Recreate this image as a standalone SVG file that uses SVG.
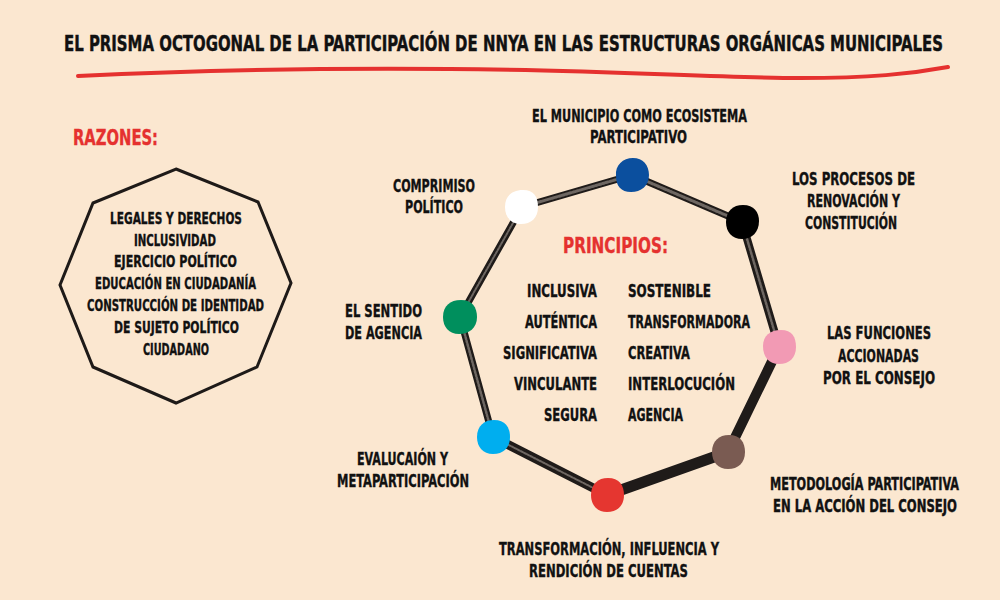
<svg xmlns="http://www.w3.org/2000/svg" width="1000" height="600" viewBox="0 0 1000 600">
  <style>
    text { font-family: "DejaVu Sans Condensed", "Liberation Sans", sans-serif; font-weight: bold; fill: #111; stroke: #111; stroke-width: 0.35px; }
    .t { font-size: 17.5px; }
    .lbl { font-size: 17px; }
    .lbs { font-size: 14.8px; }
    .oct { font-size: 15.5px; }
    .red { fill: #E5312F; stroke: #E5312F; font-size: 21px; }
    .edge-o { stroke: #1f1b19; stroke-linecap: round; fill: none; }
    .edge-i { stroke: #6e6762; stroke-linecap: round; fill: none; stroke-dasharray: 2 1.5; }
  </style>
  <rect x="0" y="0" width="1000" height="600" fill="#FBE7D0"/>

  <g id="title">
    <text class="t" transform="translate(64,51) scale(1,1.22)" x="0" y="0" textLength="879" lengthAdjust="spacingAndGlyphs">EL PRISMA OCTOGONAL DE LA PARTICIPACIÓN DE NNYA EN LAS ESTRUCTURAS ORGÁNICAS MUNICIPALES</text>
    <path d="M78,76 C200,70 330,68 450,69 C600,70 720,78 800,78 C870,78 910,74 948,67" fill="none" stroke="#E5312F" stroke-width="4" stroke-linecap="round"/>
  </g>

  <g id="razones">
    <text class="red" x="73" y="145" textLength="85" lengthAdjust="spacingAndGlyphs">RAZONES:</text>
    <polygon points="176,169 258,202 291,283 257,367 176,403 93,367 60,285 93,203" fill="none" stroke="#1e1a18" stroke-width="3" stroke-linejoin="miter"/>
    <text class="oct" x="110" y="224" textLength="132" lengthAdjust="spacingAndGlyphs">LEGALES Y DERECHOS</text>
    <text class="oct" x="134" y="246" textLength="82" lengthAdjust="spacingAndGlyphs">INCLUSIVIDAD</text>
    <text class="oct" x="114" y="267" textLength="123" lengthAdjust="spacingAndGlyphs">EJERCICIO POLÍTICO</text>
    <text class="oct" x="95" y="289" textLength="161" lengthAdjust="spacingAndGlyphs">EDUCACIÓN EN CIUDADANÍA</text>
    <text class="oct" x="87" y="311" textLength="177" lengthAdjust="spacingAndGlyphs">CONSTRUCCIÓN DE IDENTIDAD</text>
    <text class="oct" x="114" y="333" textLength="125" lengthAdjust="spacingAndGlyphs">DE SUJETO POLÍTICO</text>
    <text class="oct" x="143" y="355" textLength="66" lengthAdjust="spacingAndGlyphs">CIUDADANO</text>
  </g>

  <g id="connectors">
    <line class="edge-o" x1="522" y1="207" x2="632" y2="175" stroke-width="7"/>
    <line class="edge-i" x1="522" y1="207" x2="632" y2="175" stroke-width="3"/>
    <line class="edge-o" x1="632" y1="175" x2="742" y2="222" stroke-width="7"/>
    <line class="edge-i" x1="632" y1="175" x2="742" y2="222" stroke-width="3"/>
    <line class="edge-o" x1="742" y1="222" x2="779" y2="347" stroke-width="8"/>
    <line class="edge-i" x1="742" y1="222" x2="779" y2="347" stroke-width="2.5"/>
    <line class="edge-o" x1="779" y1="347" x2="728" y2="452" stroke-width="10" stroke="#0d0b0a"/>
    <line class="edge-o" x1="728" y1="452" x2="607" y2="495" stroke-width="11" stroke="#0d0b0a"/>
    <line class="edge-o" x1="607" y1="495" x2="493" y2="437" stroke-width="9"/>
    <line class="edge-i" x1="607" y1="495" x2="493" y2="437" stroke-width="2"/>
    <line class="edge-o" x1="493" y1="437" x2="460" y2="317" stroke-width="7"/>
    <line class="edge-i" x1="493" y1="437" x2="460" y2="317" stroke-width="2.5"/>
    <line class="edge-o" x1="460" y1="317" x2="522" y2="207" stroke-width="7"/>
    <line class="edge-i" x1="460" y1="317" x2="522" y2="207" stroke-width="2"/>
  </g>

  <g id="principios">
    <text class="red" x="563" y="253" textLength="105" lengthAdjust="spacingAndGlyphs">PRINCIPIOS:</text>
    <text class="lbl" x="527" y="297" textLength="70" lengthAdjust="spacingAndGlyphs">INCLUSIVA</text>
    <text class="lbl" x="525" y="328" textLength="72" lengthAdjust="spacingAndGlyphs">AUTÉNTICA</text>
    <text class="lbl" x="503" y="359" textLength="94" lengthAdjust="spacingAndGlyphs">SIGNIFICATIVA</text>
    <text class="lbl" x="514" y="390" textLength="83" lengthAdjust="spacingAndGlyphs">VINCULANTE</text>
    <text class="lbl" x="544" y="421" textLength="53" lengthAdjust="spacingAndGlyphs">SEGURA</text>
    <text class="lbl" x="628" y="297" textLength="83" lengthAdjust="spacingAndGlyphs">SOSTENIBLE</text>
    <text class="lbl" x="628" y="328" textLength="122" lengthAdjust="spacingAndGlyphs">TRANSFORMADORA</text>
    <text class="lbl" x="628" y="359" textLength="62" lengthAdjust="spacingAndGlyphs">CREATIVA</text>
    <text class="lbl" x="628" y="390" textLength="107" lengthAdjust="spacingAndGlyphs">INTERLOCUCIÓN</text>
    <text class="lbl" x="628" y="421" textLength="55" lengthAdjust="spacingAndGlyphs">AGENCIA</text>
  </g>

  <g id="node-municipio">
    <path d="M616,176 C615,165 623,158 633,158 C643,158 649,165 649,175 C649,186 641,192 631,192 C621,192 616,186 616,176 Z" fill="#0B4F9E"/>
    <text class="lbl" x="532" y="122" textLength="215" lengthAdjust="spacingAndGlyphs">EL MUNICIPIO COMO ECOSISTEMA</text>
    <text class="lbl" x="590" y="143" textLength="97" lengthAdjust="spacingAndGlyphs">PARTICIPATIVO</text>
  </g>

  <g id="node-procesos">
    <path d="M726,222 C726,211 733,205 743,205 C754,205 759,212 759,221 C759,232 752,239 742,239 C732,239 726,232 726,222 Z" fill="#000"/>
    <text class="lbl" x="792" y="185" textLength="123" lengthAdjust="spacingAndGlyphs">LOS PROCESOS DE</text>
    <text class="lbl" x="807" y="207" textLength="93" lengthAdjust="spacingAndGlyphs">RENOVACIÓN Y</text>
    <text class="lbl" x="805" y="229" textLength="92" lengthAdjust="spacingAndGlyphs">CONSTITUCIÓN</text>
  </g>

  <g id="node-funciones">
    <path d="M763,346 C763,336 770,330 781,330 C792,330 796,337 796,347 C796,358 789,364 779,364 C769,364 763,357 763,346 Z" fill="#F29AB4"/>
    <text class="lbl" x="827" y="339" textLength="104" lengthAdjust="spacingAndGlyphs">LAS FUNCIONES</text>
    <text class="lbl" x="838" y="362" textLength="81" lengthAdjust="spacingAndGlyphs">ACCIONADAS</text>
    <text class="lbl" x="823" y="384" textLength="112" lengthAdjust="spacingAndGlyphs">POR EL CONSEJO</text>
  </g>

  <g id="node-metodologia">
    <path d="M712,452 C712,441 719,435 729,435 C740,435 745,442 745,452 C745,463 738,469 728,469 C718,469 712,462 712,452 Z" fill="#7A5B52"/>
    <text class="lbs" transform="translate(770,490) scale(1,1.15)" x="0" y="0" textLength="189" lengthAdjust="spacingAndGlyphs">METODOLOGÍA PARTICIPATIVA</text>
    <text class="lbs" transform="translate(773,512) scale(1,1.15)" x="0" y="0" textLength="184" lengthAdjust="spacingAndGlyphs">EN LA ACCIÓN DEL CONSEJO</text>
  </g>

  <g id="node-transformacion">
    <path d="M591,495 C591,484 598,478 608,478 C619,478 624,485 624,495 C624,506 617,512 607,512 C597,512 591,505 591,495 Z" fill="#E53630"/>
    <text class="lbl" x="499" y="555" textLength="220" lengthAdjust="spacingAndGlyphs">TRANSFORMACIÓN, INFLUENCIA Y</text>
    <text class="lbl" x="529" y="577" textLength="159" lengthAdjust="spacingAndGlyphs">RENDICIÓN DE CUENTAS</text>
  </g>

  <g id="node-evaluacion">
    <path d="M477,437 C477,426 484,420 494,420 C505,420 510,427 510,437 C510,448 503,454 493,454 C483,454 477,447 477,437 Z" fill="#00AEEF"/>
    <text class="lbl" x="357" y="465" textLength="91" lengthAdjust="spacingAndGlyphs">EVALUCAIÓN Y</text>
    <text class="lbl" x="337" y="487" textLength="132" lengthAdjust="spacingAndGlyphs">METAPARTICIPACIÓN</text>
  </g>

  <g id="node-agencia">
    <path d="M443,317 C443,306 450,300 461,300 C472,300 477,307 477,317 C477,328 469,334 459,334 C449,334 443,327 443,317 Z" fill="#008F5D"/>
    <text class="lbl" x="345" y="317" textLength="77" lengthAdjust="spacingAndGlyphs">EL SENTIDO</text>
    <text class="lbl" x="345" y="339" textLength="77" lengthAdjust="spacingAndGlyphs">DE AGENCIA</text>
  </g>

  <g id="node-compromiso">
    <path d="M505,207 C505,196 512,190 523,190 C534,190 538,197 538,207 C538,218 531,224 521,224 C511,224 505,217 505,207 Z" fill="#FFFFFF"/>
    <text class="lbl" x="393" y="192" textLength="82" lengthAdjust="spacingAndGlyphs">COMPRIMISO</text>
    <text class="lbl" x="405" y="213" textLength="58" lengthAdjust="spacingAndGlyphs">POLÍTICO</text>
  </g>
</svg>
